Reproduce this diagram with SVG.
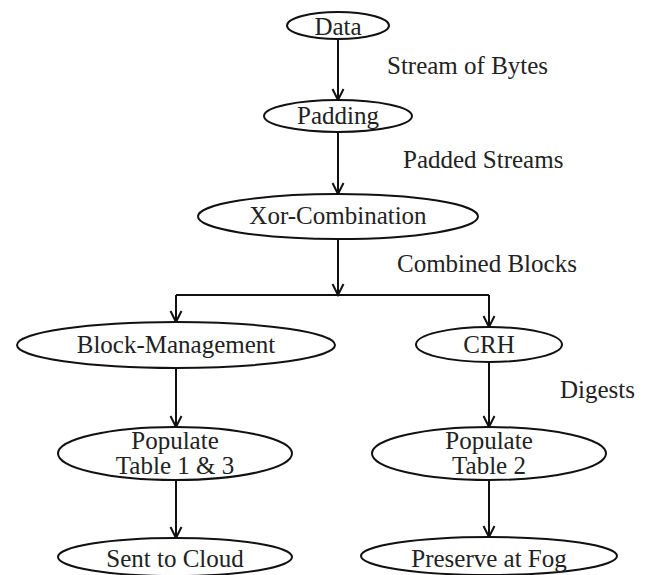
<svg xmlns="http://www.w3.org/2000/svg" width="649" height="575" viewBox="0 0 649 575" font-family="'Liberation Serif', 'Times New Roman', serif">
<defs>
<marker id="ah" markerWidth="14" markerHeight="14" refX="12" refY="7" orient="auto" markerUnits="userSpaceOnUse">
<path d="M1,1.5 L12,7 L1,12.5" fill="none" stroke="#111" stroke-width="2"/>
</marker>
<style>
.n ellipse{fill:#fff;stroke:#111;stroke-width:2}
text{font-family:"Liberation Serif","Times New Roman",serif;font-size:25px;fill:#222}
.n text{text-anchor:middle}
.c path{fill:none;stroke:#111;stroke-width:2}
.c path.a{marker-end:url(#ah)}
</style>
</defs>
<rect width="649" height="575" fill="#fff"/>
<g class="c" id="connectors">
<path class="a" d="M338,39 V100"/>
<path class="a" d="M338,132 V194"/>
<path class="a" d="M338,239 V295"/>
<path d="M176,295 H489"/>
<path class="a" d="M176,295 V322"/>
<path class="a" d="M489,295 V327"/>
<path class="a" d="M176,368 V427"/>
<path class="a" d="M489,362 V427"/>
<path class="a" d="M176,480 V538"/>
<path class="a" d="M489,480 V537"/>
</g>
<g class="n" id="data"><ellipse cx="338" cy="25.5" rx="51" ry="13.5"/><text x="338" y="35">Data</text></g>
<g class="n" id="padding"><ellipse cx="338" cy="116" rx="74" ry="16"/><text x="338" y="124">Padding</text></g>
<g class="n" id="xor"><ellipse cx="338" cy="216.5" rx="140" ry="22.5"/><text x="338" y="224">Xor-Combination</text></g>
<g class="n" id="blockmgmt"><ellipse cx="176" cy="345" rx="159" ry="23"/><text x="176" y="353">Block-Management</text></g>
<g class="n" id="crh"><ellipse cx="489" cy="344.5" rx="73" ry="17.5"/><text x="489" y="353">CRH</text></g>
<g class="n" id="pop13"><ellipse cx="175" cy="453.5" rx="117" ry="26.5"/><text x="175" y="449">Populate</text><text x="175" y="474">Table 1 &amp; 3</text></g>
<g class="n" id="pop2"><ellipse cx="489" cy="453.5" rx="117" ry="26.5"/><text x="489" y="449">Populate</text><text x="489" y="474">Table 2</text></g>
<g class="n" id="cloud"><ellipse cx="175" cy="557" rx="117" ry="19"/><text x="175" y="567">Sent to Cloud</text></g>
<g class="n" id="fog"><ellipse cx="489" cy="556" rx="128" ry="19"/><text x="489" y="567">Preserve at Fog</text></g>
<g id="labels">
<text x="387" y="74">Stream of Bytes</text>
<text x="403" y="168">Padded Streams</text>
<text x="397" y="272">Combined Blocks</text>
<text x="560" y="398">Digests</text>
</g>
</svg>
